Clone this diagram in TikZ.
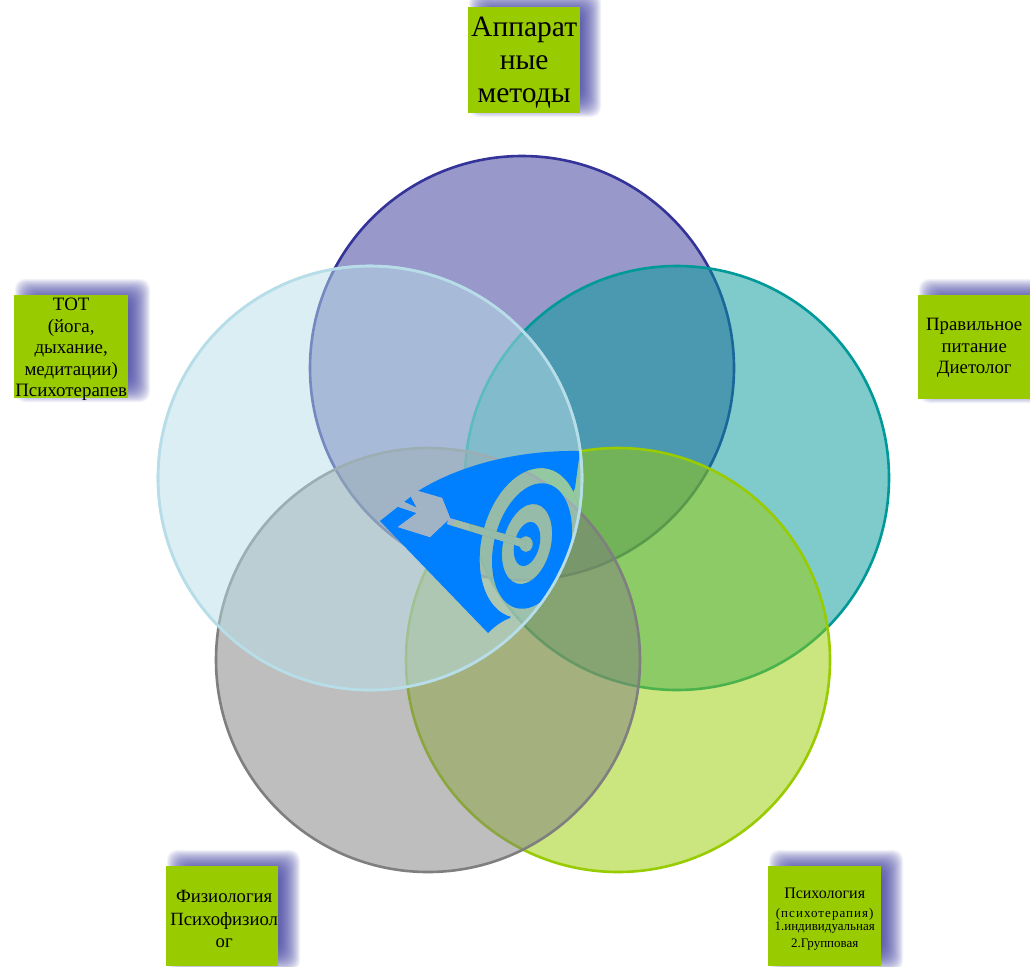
\documentclass[tikz,border=0pt]{standalone}
\usepackage{fontspec}
\setmainfont{Liberation Serif}
\tikzset{
  disc/.style={line width=2.6pt},
  labelbox/.style={fill=boxgreen,draw=none,inner sep=0pt,anchor=north west},
  labeltext/.style={align=center,text=black,inner sep=0pt},
}
\definecolor{boxgreen}{HTML}{99CC00}
\definecolor{shadowblue}{HTML}{3A3AA0}
\definecolor{cPurple}{HTML}{333399}
\definecolor{cTeal}{HTML}{009999}
\definecolor{cLime}{HTML}{99CC00}
\definecolor{cGrey}{HTML}{7F7F7F}
\definecolor{cPale}{HTML}{B7DEE8}
\definecolor{cIcon}{HTML}{0080FF}
\newcommand{\fivediscs}{%
  \fill[white] (0,0) rectangle (1030,966);
  \filldraw[disc,draw=cPurple,fill=cPurple,fill opacity=.5] (522,368) circle (212);
  \filldraw[disc,draw=cTeal,fill=cTeal,fill opacity=.5] (677,478) circle (212);
  \filldraw[disc,draw=cLime,fill=cLime,fill opacity=.5] (618,660) circle (212);
  \filldraw[disc,draw=cGrey,fill=cGrey,fill opacity=.5] (428,660) circle (212);
  \filldraw[disc,draw=cPale,fill=cPale,fill opacity=.5] (370,478) circle (212);
}
\newcommand{\softshadow}[4]{%
  \foreach \g in {11,10,...,-11}{
    \fill[shadowblue,fill opacity=.065,rounded corners=10pt]
      ({#1+\g*-1},{#2+\g*-1}) rectangle ({#3+\g},{#4+\g});
  }
}
\newcommand{\patch}[1]{\begin{scope}\clip #1;\fivediscs\end{scope}}
\begin{document}
\begin{tikzpicture}[x=1pt,y=-1pt]
\useasboundingbox (0,0) rectangle (1030,966);
\fivediscs
% icon
\begin{scope}
  \clip (370,478) circle (212);
  \fill[cIcon] (380,521) -- (418,491) .. controls (465,462) and (525,450) .. (580,451)
     -- (575,488) -- (510,618) .. controls (502,621) and (495,626) .. (488,633) -- cycle;
  \patch{(530,543) ellipse [x radius=48,y radius=76,rotate=-14]}
  \fill[cIcon] (532,546) ellipse [x radius=38,y radius=64,rotate=-14];
  \patch{(527,544) ellipse [x radius=23.5,y radius=40.5,rotate=-14]}
  \fill[cIcon] (527,544) ellipse [x radius=12.5,y radius=22.5,rotate=-14];
  \patch{(526,544) ellipse [x radius=6.5,y radius=7.5]}
  \patch{(449,518) -- (525,540) -- (525,548) -- (447,524) -- cycle}
  % fletching and feather slit
  \patch{(410,495) -- (405,490) -- (418,491) -- (442,498) -- (450,518) -- (430,537) -- (398,527) -- (417,513) -- (417,508) -- cycle}
  \patch{(398,499) -- (417,508) -- (417,513) -- (393,505) -- cycle}
\end{scope}
\draw[disc,draw=cPale] (370,478) circle (212);
% label boxes
\softshadow{480}{3}{590}{106}
\node[labelbox,minimum width=112pt,minimum height=106pt] (top) at (468,7) {};
\node[labeltext,font=\fontsize{29.5}{33}\selectfont,yshift=-2pt] at (top.center) {Аппарат\\ные\\методы};
\softshadow{26}{290}{139}{391}
\node[labelbox,minimum width=114pt,minimum height=103pt] (tot) at (14,295) {};
\node[labeltext,font=\fontsize{18.9}{21.5}\selectfont,yshift=-3pt] at (tot.center) {ТОТ\\(йога,\\дыхание,\\медитации)\\Психотерапев};
\softshadow{930}{290}{1042}{392}
\node[labelbox,minimum width=112pt,minimum height=104pt] (diet) at (918,295) {};
\node[labeltext,font=\fontsize{18.8}{21.5}\selectfont,yshift=-1pt] at (diet.center) {Правильное\\питание\\Диетолог};
\softshadow{178}{861}{289}{960}
\node[labelbox,minimum width=112pt,minimum height=100pt] (phys) at (166,866) {};
\node[labeltext,font=\fontsize{18.7}{22.5}\selectfont,yshift=-3pt,xshift=2pt] at (phys.center) {Физиология\\Психофизиол\\ог};
\softshadow{780}{861}{892}{960}
\node[labelbox,minimum width=113pt,minimum height=100pt] (psy) at (768,866) {};
\node[labeltext,font=\fontsize{13}{16}\selectfont,yshift=-3pt] at (psy.center) {{\fontsize{16}{19}\selectfont Психология}\\[3pt]{\addfontfeature{LetterSpace=8}(психотерапия)}\\[-3pt]1.индивидуальная\\[1pt]2.Групповая};
\end{tikzpicture}
\end{document}
